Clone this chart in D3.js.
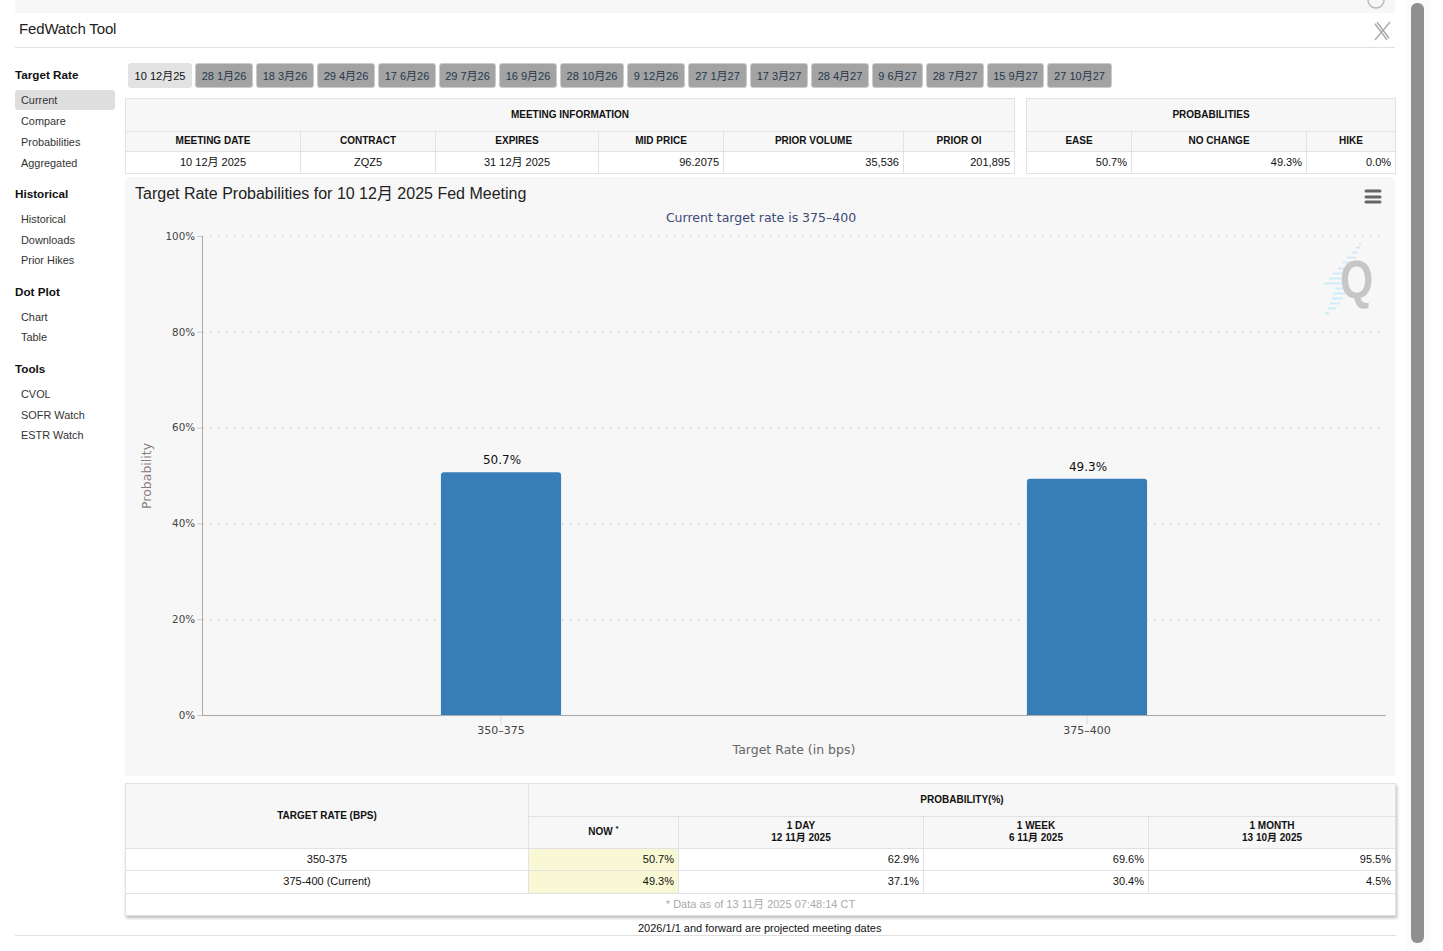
<!DOCTYPE html>
<html>
<head>
<meta charset="utf-8">
<script src="https://cdn.jsdelivr.net/npm/d3@7/dist/d3.min.js"></script>
<style>
  html, body { margin: 0; padding: 0; background: #fff; overflow: hidden; }
  body { width: 1443px; height: 951px; position: relative; font-family: "Liberation Sans", "Noto Sans CJK SC", sans-serif; font-size: 12px; color: #111; }
  .abs { position: absolute; }
  .nav-head { position: absolute; left: 15px; font-size: 11.7px; font-weight: bold; color: #111; line-height: 14px; }
  .nav-item { position: absolute; left: 21px; color: #333; font-size: 10.9px; line-height: 14px; }
  .tab { position: absolute; top: 63px; height: 25px; line-height: 24px; font-size: 11px; text-align: center; box-sizing: border-box; background: #a3a3a3; border: 1px solid #ccc; border-radius: 3px; color: #24384d; white-space: nowrap; }
  .tab.on { background: #e3e3e3; color: #111; border-color: #e3e3e3; }
  table { position: absolute; border-collapse: collapse; table-layout: fixed; background: #fff; }
  th, td { border: 1px solid #e2e2e2; padding: 0 4px 1px; box-sizing: border-box; white-space: nowrap; }
  th { background: #f7f7f7; font-size: 10px; font-weight: bold; line-height: 12px; text-align: center; }
  td { font-size: 11px; line-height: 13px; text-align: center; }
  td.num { text-align: right; }
  td.now { background: #f8f8d4; }
  td.foot { color: #aaa; }
  sup { font-size: 8px; line-height: 0; }
  svg text { font-family: "DejaVu Sans", sans-serif; }
</style>
</head>
<body>
<script>
// Data
const meetings = ['10 12月25', '28 1月26', '18 3月26', '29 4月26', '17 6月26', '29 7月26', '16 9月26', '28 10月26', '9 12月26', '27 1月27', '17 3月27', '28 4月27', '9 6月27', '28 7月27', '15 9月27', '27 10月27'];
const tabEdges = [128, 195, 256, 317, 378, 439, 499, 560, 627, 688, 750, 811, 872, 926, 987, 1047, 1115];

const navHeads = [['Target Rate', 75], ['Historical', 194], ['Dot Plot', 292], ['Tools', 369]];
const navItems = [['Current', 100], ['Compare', 121], ['Probabilities', 142], ['Aggregated', 163], ['Historical', 219], ['Downloads', 240], ['Prior Hikes', 260], ['Chart', 317], ['Table', 337], ['CVOL', 394], ['SOFR Watch', 415], ['ESTR Watch', 435]];

const infoHeads = ['MEETING DATE', 'CONTRACT', 'EXPIRES', 'MID PRICE', 'PRIOR VOLUME', 'PRIOR OI'];
const infoValues = ['10 12月 2025', 'ZQZ5', '31 12月 2025', '96.2075', '35,536', '201,895'];
const probHeads = ['EASE', 'NO CHANGE', 'HIKE'];
const probValues = ['50.7%', '49.3%', '0.0%'];

const rates = ['350-375', '375-400'];
const rateLabels = ['350-375', '375-400 (Current)'];
const probNow = [50.7, 49.3];
const prob1Day = [62.9, 37.1];
const prob1Week = [69.6, 30.4];
const prob1Month = [95.5, 4.5];
const yTicks = [0, 20, 40, 60, 80, 100];

const body = d3.select('body');

function box(x, y, w, h, color, radius) {
  return body.append('div').attr('class', 'abs')
    .style('left', x + 'px').style('top', y + 'px')
    .style('width', w + 'px').style('height', h + 'px')
    .style('background', color).style('border-radius', (radius || 0) + 'px');
}

// Page furniture
box(15, 0, 1380, 13, '#f7f7f7');
box(15, 47, 1380, 1, '#dfdfdf');
box(15, 935, 1381, 1, '#dfdfdf');
box(1406, 0, 24, 951, '#fbfbfb');
box(1411, 3, 13, 940, '#8f8f8f', 6);
body.append('div').attr('class', 'abs').style('left', '19px').style('top', '20px')
  .style('font-size', '15px').style('letter-spacing', '-0.15px').style('line-height', '18px').style('color', '#222').text('FedWatch Tool');
body.append('div').attr('class', 'abs')
  .style('left', '638px').style('top', '922px').style('font-size', '11px').style('line-height', '13px').style('color', '#111')
  .text('2026/1/1 and forward are projected meeting dates');

// Side navigation
box(15, 90, 100, 20, '#dedede', 3);
body.selectAll('.nav-head').data(navHeads).join('div').attr('class', 'nav-head')
  .style('top', d => (d[1] - 7) + 'px').text(d => d[0]);
body.selectAll('.nav-item').data(navItems).join('div').attr('class', 'nav-item')
  .style('top', d => (d[1] - 7) + 'px').text(d => d[0]);

// Meeting tabs
body.selectAll('.tab').data(meetings).join('div')
  .attr('class', (d, i) => i === 0 ? 'tab on' : 'tab')
  .style('left', (d, i) => tabEdges[i] + 'px')
  .style('width', (d, i) => (tabEdges[i + 1] - tabEdges[i] - 3) + 'px')
  .text(d => d);

// Build a fixed table from rows of {t, cls, span, rowspan, html}
function makeTable(x, y, widths, rows) {
  const table = body.append('table')
    .style('left', x + 'px').style('top', y + 'px')
    .style('width', d3.sum(widths) + 'px');
  table.append('colgroup').selectAll('col').data(widths).join('col').style('width', d => d + 'px');
  rows.forEach(r => {
    const tr = table.append('tr').style('height', r.h + 'px');
    r.cells.forEach(c => {
      tr.append(c.th ? 'th' : 'td')
        .attr('class', c.cls || null)
        .attr('colspan', c.span || null)
        .attr('rowspan', c.rows || null)
        .html(c.t);
    });
  });
  return table;
}

makeTable(125, 98, [175, 135, 163, 125, 180, 111], [
  { h: 33, cells: [{ th: 1, t: 'MEETING INFORMATION', span: 6 }] },
  { h: 20, cells: infoHeads.map(t => ({ th: 1, t })) },
  { h: 22, cells: infoValues.map((t, i) => ({ t, cls: i > 2 ? 'num' : null })) }
]);
makeTable(1026, 98, [105, 175, 89], [
  { h: 33, cells: [{ th: 1, t: 'PROBABILITIES', span: 3 }] },
  { h: 20, cells: probHeads.map(t => ({ th: 1, t })) },
  { h: 22, cells: probValues.map(t => ({ t, cls: 'num' })) }
]);

const pct = v => v.toFixed(1) + '%';
makeTable(125, 783, [403, 150, 245, 225, 247], [
  { h: 33, cells: [{ th: 1, t: 'TARGET RATE (BPS)', rows: 2 }, { th: 1, t: 'PROBABILITY(%)', span: 4 }] },
  { h: 32, cells: [
    { th: 1, t: 'NOW <sup>*</sup>' },
    { th: 1, t: '1 DAY<br>12 11月 2025' },
    { th: 1, t: '1 WEEK<br>6 11月 2025' },
    { th: 1, t: '1 MONTH<br>13 10月 2025' }
  ] },
  ...rateLabels.map((label, i) => ({ h: i === 0 ? 22 : 23, cells: [
    { t: label },
    { t: pct(probNow[i]), cls: 'num now' },
    { t: pct(prob1Day[i]), cls: 'num' },
    { t: pct(prob1Week[i]), cls: 'num' },
    { t: pct(prob1Month[i]), cls: 'num' }
  ] })),
  { h: 22, cells: [{ t: '* Data as of 13 11月 2025 07:48:14 CT', span: 5, cls: 'foot' }] }
]).style('box-shadow', '1px 2px 3px #bbb');

// Chart
box(125, 177, 1270, 599, '#f7f7f7', 3);
const svg = body.append('svg').attr('class', 'abs')
  .style('left', 0).style('top', 0)
  .attr('width', 1443).attr('height', 951);

const plot = { left: 202, right: 1386, top: 236, bottom: 715 };
const x = d3.scaleBand().domain(rates).range([208, 1380]).paddingInner(0.795).paddingOuter(0.3975);
const y = d3.scaleLinear().domain([0, 100]).range([plot.bottom, plot.top]);

svg.append('text').attr('x', 135).attr('y', 199)
  .style('font-family', '"Liberation Sans", "Noto Sans CJK SC", sans-serif')
  .style('font-size', '16px').attr('fill', '#222')
  .text('Target Rate Probabilities for 10 12月 2025 Fed Meeting');
svg.append('text').attr('x', 761).attr('y', 222).attr('text-anchor', 'middle')
  .style('font-size', '12.5px').attr('fill', '#3e4a78')
  .text('Current target rate is 375–400');

// Dotted grid
svg.append('g').selectAll('line').data(yTicks).join('line')
  .attr('x1', plot.left).attr('x2', plot.right)
  .attr('y1', d => y(d) + 0.5).attr('y2', d => y(d) + 0.5)
  .attr('stroke', '#dedede').attr('stroke-width', 1.5).attr('stroke-dasharray', '2,6');

// Watermark
const wmStripes = [[243, 1359, 1361], [247, 1356, 1360], [252, 1352, 1358], [257, 1347, 1356], [262, 1343, 1353], [268, 1338, 1350], [273, 1333, 1348], [278, 1329, 1345], [283, 1324, 1345], [288, 1335, 1345], [293, 1333, 1345], [298, 1332, 1343], [303, 1330, 1340], [308, 1328, 1336], [313, 1325, 1330]];
svg.append('g').selectAll('line').data(wmStripes).join('line')
  .attr('x1', d => d[1]).attr('x2', d => d[2])
  .attr('y1', d => d[0] + 0.5).attr('y2', d => d[0] + 0.5)
  .attr('stroke', (d, i) => i < 6 ? '#d6e6f6' : '#cdeef8').attr('stroke-width', 2);
svg.append('text').attr('transform', 'translate(1356.5,298) scale(0.95,1.2)').attr('text-anchor', 'middle')
  .style('font-size', '45px').style('font-weight', 'bold')
  .style('font-family', '"Liberation Sans", sans-serif').attr('fill', '#c6c6c6').text('Q');

// Bars, rounded on top only
svg.append('g').selectAll('path').data(rates).join('path')
  .attr('fill', '#377db8')
  .attr('d', (d, i) => {
    const x0 = x(d), w = x.bandwidth(), top = y(probNow[i]), r = 3;
    return `M${x0},${y(0)}V${top + r}Q${x0},${top} ${x0 + r},${top}H${x0 + w - r}Q${x0 + w},${top} ${x0 + w},${top + r}V${y(0)}Z`;
  });
svg.append('g').selectAll('text').data(rates).join('text')
  .attr('x', d => x(d) + x.bandwidth() / 2 + 1)
  .attr('y', (d, i) => y(probNow[i]) - 8)
  .attr('text-anchor', 'middle').style('font-size', '12px').attr('fill', '#111')
  .text((d, i) => pct(probNow[i]));

// Axes
const yAxis = svg.append('g').attr('transform', `translate(${plot.left},0)`)
  .call(d3.axisLeft(y).tickValues(yTicks).tickFormat(d => d + '%').tickSize(5).tickPadding(2));
yAxis.select('.domain').attr('stroke', '#aaa');
yAxis.selectAll('.tick line').attr('stroke', '#ccc');
yAxis.selectAll('text').style('font-size', '10.3px').attr('fill', '#444');

const xAxis = svg.append('g').attr('transform', `translate(0,${plot.bottom})`)
  .call(d3.axisBottom(x).tickSize(10).tickPadding(1).tickFormat(d => d.replace('-', '–')));
xAxis.select('.domain').remove();
xAxis.selectAll('.tick line').attr('stroke', '#ddd');
xAxis.selectAll('text').style('font-size', '11px').attr('fill', '#444');
svg.append('line').attr('x1', plot.left).attr('x2', plot.right)
  .attr('y1', plot.bottom + 0.5).attr('y2', plot.bottom + 0.5).attr('stroke', '#aaa');

svg.append('text').attr('x', 794).attr('y', 754).attr('text-anchor', 'middle')
  .style('font-size', '12.5px').attr('fill', '#666').text('Target Rate (in bps)');
svg.append('text').attr('transform', 'translate(151,476) rotate(-90)').attr('text-anchor', 'middle')
  .style('font-size', '12.5px').attr('fill', '#8a7a7a').text('Probability');

// Export menu icon
svg.append('g').selectAll('line').data([191, 197, 202]).join('line')
  .attr('x1', 1366).attr('x2', 1380).attr('y1', d => d).attr('y2', d => d)
  .attr('stroke', '#666').attr('stroke-width', 3).attr('stroke-linecap', 'round');

// Close (X) icon, double struck, and the cut-off refresh icon
svg.append('path').attr('d', 'M1376,23L1388,39').attr('stroke', '#a8a8a8').attr('stroke-width', 4).attr('fill', 'none');
svg.append('path').attr('d', 'M1376,23L1388,39').attr('stroke', '#fff').attr('stroke-width', 1.2).attr('fill', 'none');
svg.append('path').attr('d', 'M1390,22L1375,40').attr('stroke', '#a8a8a8').attr('stroke-width', 1.3).attr('fill', 'none');
svg.append('path').attr('d', 'M1368,0A8,8 0 0 0 1384,0').attr('stroke', '#bbb').attr('stroke-width', 1.5).attr('fill', 'none');
</script>
</body>
</html>
